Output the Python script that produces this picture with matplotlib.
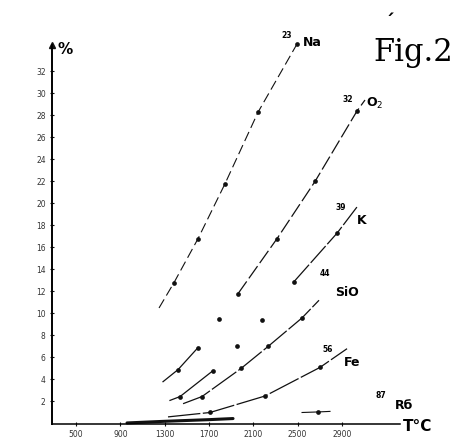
"""Evaporation curves (%) vs temperature, redrawn from Fig. 2."""

import matplotlib

matplotlib.use("Agg")
import matplotlib.pyplot as plt

INK = "#111111"
W, H = 456, 440

# x: temperature in deg C, y: percent
X_TICKS = [500, 900, 1300, 1700, 2100, 2500, 2900]
Y_TICKS = list(range(2, 33, 2))

NA_T = [1249, 1384, 1601, 1845, 2143, 2495]
NA_P = [10.5, 12.8, 16.8, 21.8, 28.3, 34.5]

O2_T = [1962, 2314, 2657, 3036, 3108]
O2_P = [11.8, 16.8, 22.0, 28.4, 29.4]

K_T = [2468, 2856, 3045]
K_P = [12.9, 17.3, 19.8]

SEG_A_T = [1285, 1421, 1601]
SEG_A_P = [3.8, 4.9, 6.9]

SEG_B_T = [1348, 1439, 1736]
SEG_B_P = [2.1, 2.45, 4.8]

SIO_T = [1466, 1637, 1989, 2233, 2540, 2693]
SIO_P = [1.8, 2.45, 5.0, 7.0, 9.6, 11.2]

FE_T = [1330, 1709, 2206, 2702, 2946]
FE_P = [0.6, 1.0, 2.5, 5.1, 6.8]

RB_LOW_T = [960, 1300, 1700, 1917]
RB_LOW_P = [0.05, 0.2, 0.35, 0.45]
RB_T = [2540, 2684, 2792]
RB_P = [1.0, 1.05, 1.1]

LOOSE_T = [1791, 2179, 1953]
LOOSE_P = [9.5, 9.4, 7.0]

# which points of each line carry a dot
NA_DOTS = [1, 2, 3, 4, 5]
O2_DOTS = [0, 1, 2, 3]
K_DOTS = [0, 1]
SEG_A_DOTS = [1, 2]
SEG_B_DOTS = [1, 2]
SIO_DOTS = [1, 2, 3, 4]
FE_DOTS = [1, 2, 3]
RB_DOTS = [1]


def fpos(x, y):
    return x / W, 1 - y / H


def curve(ax, t, p, dots, ls="-", lw=0.9):
    ax.plot(t, p, color=INK, lw=lw, ls=ls, clip_on=False)
    ax.plot([t[i] for i in dots], [p[i] for i in dots], "o", color=INK,
            ms=3.4, mec="none", clip_on=False)


def main():
    plt.rcParams.update({"font.family": "DejaVu Sans"})
    fig = plt.figure(figsize=(W / 100, H / 100), dpi=100)
    ax = fig.add_axes([52 / W, 1 - 423.5 / H, (400 - 52) / W, (423.5 - 45) / H])

    ax.set_xlim(283, 3424)
    ax.set_ylim(0, 34.4)
    for side in ("top", "right"):
        ax.spines[side].set_visible(False)
    ax.spines["left"].set_linewidth(1.4)
    ax.spines["bottom"].set_linewidth(1.1)
    ax.plot([0], [1], "^", color=INK, ms=4, transform=ax.transAxes, clip_on=False)

    ax.set_xticks(X_TICKS)
    ax.set_xticklabels([str(v) for v in X_TICKS], fontsize=5.5)
    ax.set_yticks(Y_TICKS)
    ax.set_yticklabels([str(v) for v in Y_TICKS], fontsize=5.5)
    ax.tick_params(direction="inout", length=3, width=0.8, pad=3, colors=INK,
                   labelcolor="#333333")

    curve(ax, NA_T, NA_P, NA_DOTS, ls=(0, (9, 4)), lw=0.8)
    curve(ax, O2_T, O2_P, O2_DOTS, ls=(0, (12, 3)), lw=0.9)
    curve(ax, K_T, K_P, K_DOTS, ls=(0, (18, 2)), lw=0.9)
    curve(ax, SEG_A_T, SEG_A_P, SEG_A_DOTS)
    curve(ax, SEG_B_T, SEG_B_P, SEG_B_DOTS)
    curve(ax, SIO_T, SIO_P, SIO_DOTS, ls=(0, (24, 2)))
    curve(ax, FE_T, FE_P, FE_DOTS, ls=(0, (26, 2)))
    ax.plot(RB_LOW_T, RB_LOW_P, color=INK, lw=2.2, solid_capstyle="round", clip_on=False)
    curve(ax, RB_T, RB_P, RB_DOTS, lw=0.8)
    ax.plot(LOOSE_T, LOOSE_P, "o", color=INK, ms=3.4, mec="none", ls="none")

    # labels
    fig.text(*fpos(58, 50), "%", fontsize=11, fontweight="bold", va="center")
    fig.text(*fpos(403, 426), "T°C", fontsize=11, fontweight="bold", va="center")
    labels = [
        ("23", 287, 35, "Na", 312, 43),
        ("32", 348, 99, "O$_2$", 375, 103),
        ("39", 341, 207, "K", 362, 220),
        ("44", 325, 274, "SiO", 347, 293),
        ("56", 328, 349, "Fe", 352, 362),
        ("87", 381, 395, "R\u0431", 404, 405),
    ]
    for num, nx, ny, name, lx, ly in labels:
        fig.text(*fpos(nx, ny), num, fontsize=5.5, fontweight="bold", ha="center", va="center")
        fig.text(*fpos(lx, ly), name, fontsize=9, fontweight="bold", ha="center", va="center")

    fig.text(*fpos(413, 52), "Fig.2", fontsize=22, family="DejaVu Serif",
             ha="center", va="center")
    fig.text(*fpos(389, 22), "\u00b4", fontsize=14, fontweight="bold",
             ha="center", va="center")

    fig.savefig("out.png", dpi=100)
    plt.close(fig)


if __name__ == "__main__":
    main()
